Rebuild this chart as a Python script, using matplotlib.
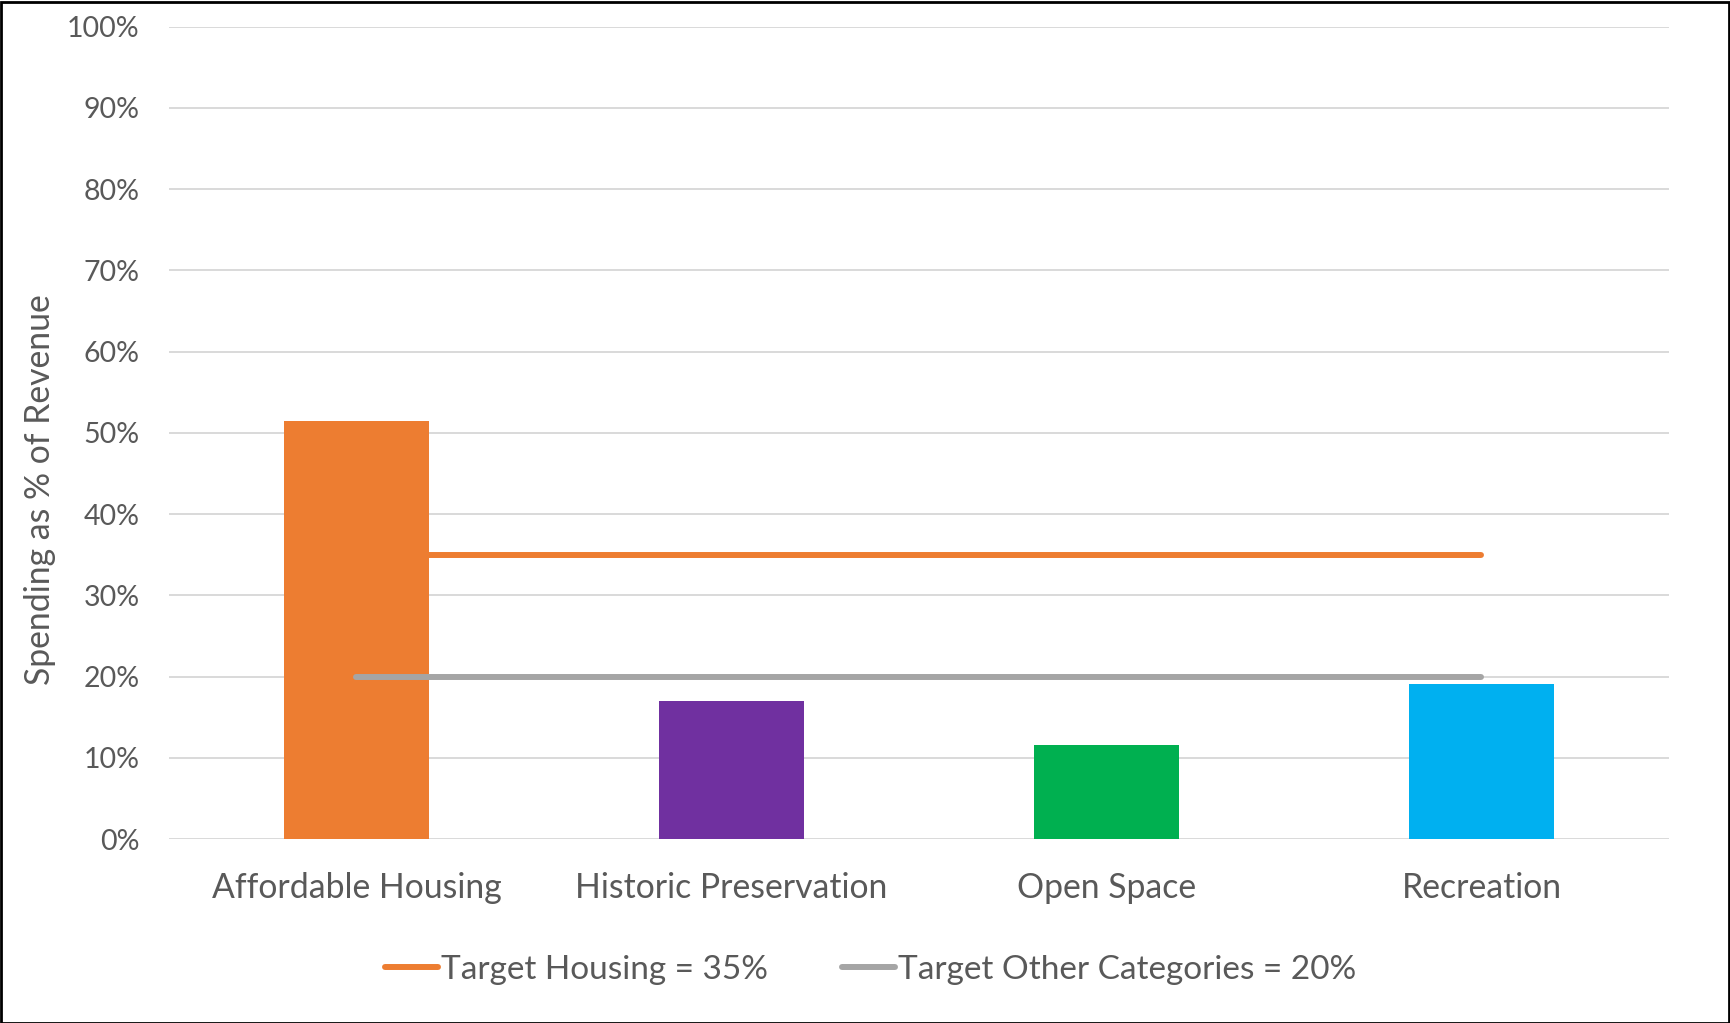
import matplotlib.pyplot as plt
from matplotlib.patches import Rectangle
from matplotlib.ticker import PercentFormatter

categories = ["Affordable Housing", "Historic Preservation", "Open Space", "Recreation"]
spending = [0.515, 0.170, 0.116, 0.191]
bar_colors = ["#ED7D31", "#7030A0", "#00B050", "#00B0F0"]
target_housing = [0.35, 0.35, 0.35, 0.35]
target_other = [0.20, 0.20, 0.20, 0.20]
yticks = [0, 0.1, 0.2, 0.3, 0.4, 0.5, 0.6, 0.7, 0.8, 0.9, 1.0]

plt.rcParams['font.family'] = ['Lato', 'DejaVu Sans']
text_color = "#595959"

W, H, dpi = 1731, 1023, 100
fig = plt.figure(figsize=(W / dpi, H / dpi), dpi=dpi)
ax = fig.add_axes([169 / W, 1 - 839 / H, 1500 / W, (839 - 26.7) / H])

x = list(range(len(categories)))
ax.bar(x, spending, width=0.387, color=bar_colors, zorder=2)
ax.plot(x, target_housing, color="#ED7D31", lw=4.3, solid_capstyle="round",
        zorder=3, label="Target Housing = 35%")
ax.plot(x, target_other, color="#A5A5A5", lw=4.3, solid_capstyle="round",
        zorder=3, label="Target Other Categories = 20%")

ax.set_xlim(-0.5, len(categories) - 0.5)
ax.set_ylim(0, 1)
ax.set_yticks(yticks)
ax.yaxis.set_major_formatter(PercentFormatter(1.0, decimals=0))
ax.grid(axis="y", color="#D9D9D9", lw=1.4, zorder=0)
ax.set_axisbelow(True)
for s in ax.spines.values():
    s.set_visible(False)
ax.tick_params(axis="both", length=0, colors=text_color)
ax.tick_params(axis="y", labelsize=20.5, pad=21)
ax.tick_params(axis="x", labelsize=24.3, pad=23.5)
ax.set_xticks(x)
ax.set_xticklabels(categories)
ax.set_ylabel("Spending as % of Revenue", fontsize=24.3, color=text_color)
ax.yaxis.set_label_coords(-0.0753, 0.43)

fig.legend(loc="center", bbox_to_anchor=(0.503, 1 - 970 / H), ncol=2, frameon=False,
           fontsize=24, labelcolor=text_color, handlelength=1.6, handletextpad=0.1,
           columnspacing=2.2)

fig.add_artist(Rectangle((1 / W, 0), 1 - 3 / W, 1 - 2 / H, transform=fig.transFigure,
                         fill=False, ec="black", lw=2))

fig.savefig("out.png", dpi=dpi)
